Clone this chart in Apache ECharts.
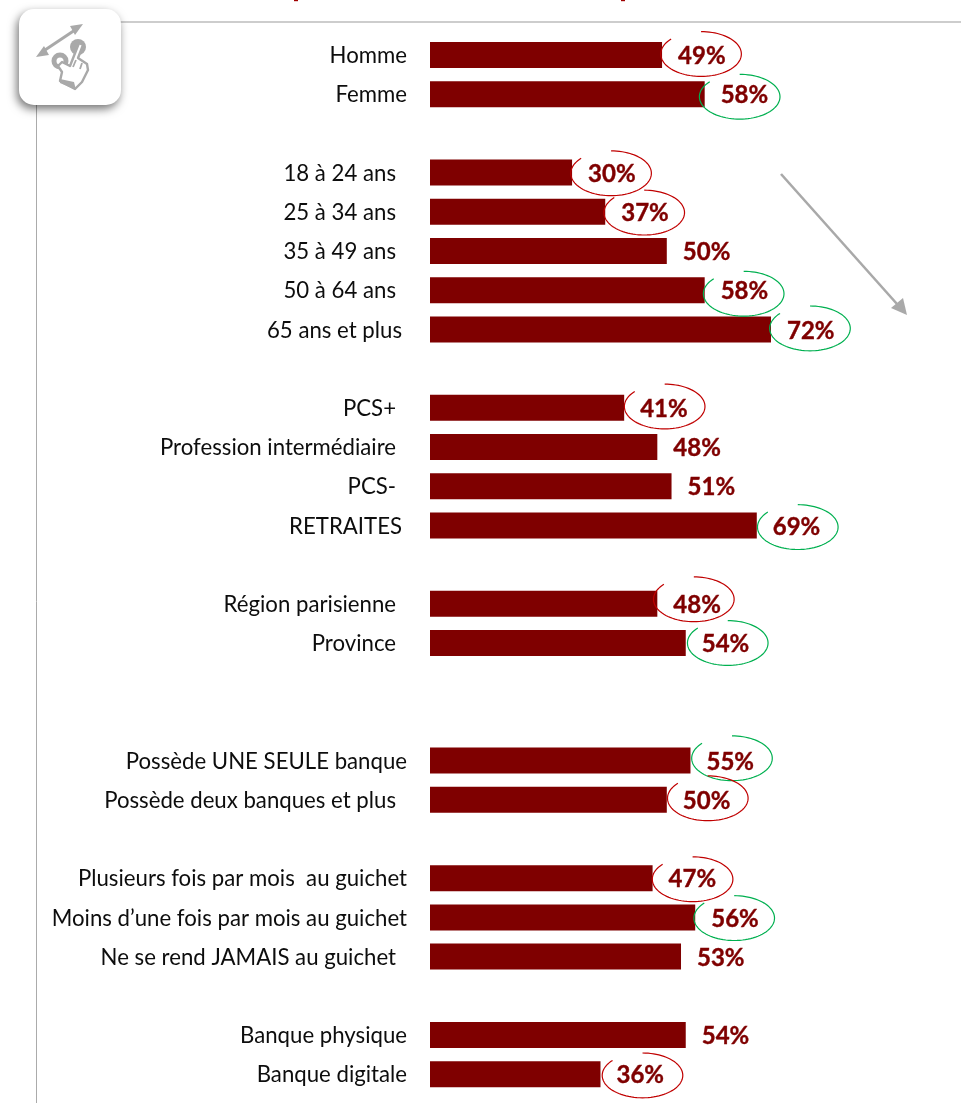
<!DOCTYPE html>
<html>
<head>
<meta charset="utf-8">
<style>html,body{margin:0;padding:0;background:#fff}#c{width:961px;height:1103px}</style>
<script src="https://cdn.jsdelivr.net/npm/echarts@6/dist/echarts.min.js"></script>
</head>
<body>
<div id="c"></div>
<script>
// Segments, top to bottom; empty names are the spacers between groups.
const categories = ['Homme','Femme','','18 à 24 ans','25 à 34 ans','35 à 49 ans','50 à 64 ans','65 ans et plus','','PCS+','Profession intermédiaire','PCS-','RETRAITES','','Région parisienne','Province','','','Possède UNE SEULE banque','Possède deux banques et plus','','Plusieurs fois par mois  au guichet','Moins d’une fois par mois au guichet','Ne se rend JAMAIS au guichet','','Banque physique','Banque digitale'];
const shares = [49,58,null,30,37,50,58,72,null,41,48,51,69,null,48,54,null,null,55,50,null,47,56,53,null,54,36];
// Circled results: r = under the average, g = over it, '' = not circled.
const rings = ['r','g','','r','r','','g','g','','r','','','g','','r','g','','','g','r','','r','g','','','','r'];
// Hand-placed ovals: distance from the bar end, and vertical nudge.
const ringDx = [39,35,0,39,39,0,39,39,0,40.5,0,0,41,0,36.5,42,0,0,41.5,41,0,40,39,0,0,0,42];
const ringDy = [-1,2.5,0,0.7,0.8,0,3.5,-1,0,-1.3,0,0,1.7,0,-4.5,0,0,0,-2.3,-1.5,0,1,0.7,0,0,0,1.2];
// Label gutter: right padding in pixels per segment.
const labelGap = [23,23,0,34,34,34,34,28,0,34,34,34,28,0,34,34,0,0,23,34,0,23,23,34,0,23,23];

const RED = '#7f0000';
const ringColor = { r: '#c00000', g: '#00b050' };
const GREY = '#a9a9a9';
const FONT_SIZE = 22.2;

const chart = echarts.init(document.getElementById('c'), null, { renderer: 'canvas' });

function renderRing(params, api) {
  const i = api.value(1);
  const kind = rings[i];
  if (!kind) return null;
  const end = api.coord([api.value(0), i]);
  const cx = end[0] + ringDx[i], cy = end[1] + ringDy[i];
  const rx = 40.3, ry = 22.4;
  const pts = [];
  // open ellipse: runs clockwise from the top round to the upper left
  for (let a = -90; a <= 224; a += 4) {
    const t = a * Math.PI / 180;
    pts.push([cx + rx * Math.cos(t), cy + ry * Math.sin(t)]);
  }
  return { type: 'polyline', shape: { points: pts }, style: { stroke: ringColor[kind], lineWidth: 1.2, fill: null }, silent: true };
}

chart.setOption({
  animation: false,
  grid: { left: 430, top: 35.4, width: 473.6, height: 1058.4, containLabel: false },
  xAxis: { type: 'value', min: 0, max: 100, show: false },
  yAxis: {
    type: 'category', inverse: true, data: categories,
    axisLine: { show: false }, axisTick: { show: false }, splitLine: { show: false },
    axisLabel: {
      interval: 0, margin: 0,
      color: '#0d0d0d', fontFamily: 'Lato', fontSize: FONT_SIZE,
      formatter: (v, i) => v ? '{g' + labelGap[i] + '|' + v + '}' : '',
      rich: Object.fromEntries([23, 28, 34].map(p => ['g' + p, { fontFamily: 'Lato', fontSize: FONT_SIZE, color: '#0d0d0d', padding: [2, p, 0, 0] }]))
    }
  },
  series: [
    {
      type: 'bar', data: shares, barWidth: 26, silent: true,
      itemStyle: { color: RED },
      label: {
        show: true, position: 'right', distance: 16, offset: [0, 1.5],
        formatter: p => p.value + '%',
        color: RED, fontFamily: 'Lato', fontWeight: 'bold', fontSize: 24,
        textBorderColor: RED, textBorderWidth: 0.4
      }
    },
    {
      type: 'custom', silent: true, renderItem: renderRing, z: 3,
      encode: { x: 0, y: 1 },
      data: shares.map((v, i) => [v, i]).filter(d => d[0] !== null)
    }
  ],
  graphic: [
    // tails of the heading's letters at the top edge
    { type: 'rect', shape: { x: 294, y: 0, width: 4, height: 1.2 }, style: { fill: '#a00000' } },
    { type: 'rect', shape: { x: 621, y: 0, width: 4, height: 1.2 }, style: { fill: '#a00000' } },
    { type: 'line', shape: { x1: 118, y1: 22, x2: 961, y2: 22 }, style: { stroke: '#bdbdbd', lineWidth: 1.6 } },
    { type: 'line', shape: { x1: 36.5, y1: 100, x2: 36.5, y2: 1103 }, style: { stroke: '#ababab', lineWidth: 1 } },
    { type: 'line', z: 4, shape: { x1: 781, y1: 174, x2: 897, y2: 304 }, style: { stroke: GREY, lineWidth: 2.6 } },
    { type: 'polygon', z: 4, shape: { points: [[907, 315], [891, 308], [903, 298]] }, style: { fill: GREY } },
    // button badge with the pinch gesture
    { type: 'rect', z: 5, shape: { x: 19, y: 9, width: 102, height: 96, r: 15 },
      style: { fill: '#fff', shadowBlur: 10, shadowColor: 'rgba(0,0,0,0.55)', shadowOffsetX: -2, shadowOffsetY: 4 } },
    { type: 'line', z: 6, shape: { x1: 42, y1: 52, x2: 78, y2: 28 }, style: { stroke: GREY, lineWidth: 3 } },
    { type: 'polygon', z: 6, shape: { points: [[36, 57], [49, 55], [44, 46]] }, style: { fill: GREY } },
    { type: 'polygon', z: 6, shape: { points: [[83, 24], [70, 26], [75, 35]] }, style: { fill: GREY } },
    { type: 'circle', z: 6, shape: { cx: 78, cy: 47, r: 8 }, style: { fill: GREY } },
    { type: 'circle', z: 6, shape: { cx: 60, cy: 61, r: 8.5 }, style: { fill: GREY } },
    { type: 'circle', z: 7, shape: { cx: 60, cy: 61, r: 3.5 }, style: { fill: '#fff' } },
    { type: 'polygon', z: 7, shape: { points: [[79, 43], [83, 45], [78, 58], [87, 64], [88, 70], [82, 82], [75, 89], [60, 81], [62, 72], [58, 66], [62, 62], [70, 66]] },
      style: { fill: '#fff', stroke: GREY, lineWidth: 2.4, lineJoin: 'round' } },
    // folds of the fingers and the heavy cuff
    { type: 'line', z: 8, shape: { x1: 76, y1: 60, x2: 73, y2: 67 }, style: { stroke: GREY, lineWidth: 1.8 } },
    { type: 'line', z: 8, shape: { x1: 82, y1: 63, x2: 80, y2: 69 }, style: { stroke: GREY, lineWidth: 1.8 } },
    { type: 'polygon', z: 8, shape: { points: [[60, 79], [74, 82], [76, 90], [60, 83]] }, style: { fill: GREY } }
  ]
});
</script>
</body>
</html>
